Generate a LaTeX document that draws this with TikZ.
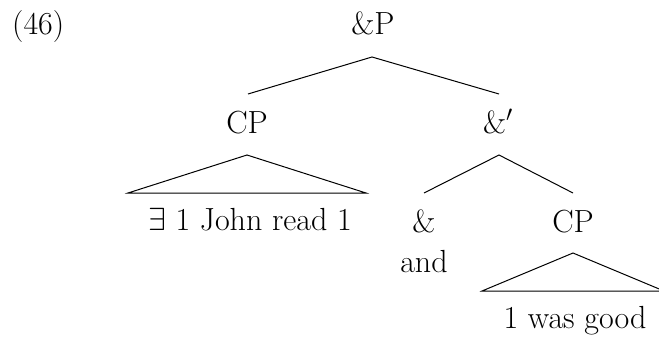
\RequirePackage{fix-cm}
\documentclass[tikz,border=0pt]{standalone}
\usetikzlibrary{calc}
\begin{document}
\begin{tikzpicture}[x=1pt,y=-1pt,
  lbl/.style={inner sep=0pt,anchor=base,font=\fontsize{32}{38}\selectfont},
  branch/.style={line width=1pt,line join=miter}]
\useasboundingbox (0,0) rectangle (659,337);
% example number
\node[lbl,anchor=base west] (num) at (12,35) {(46)};
% tree labels
\node[lbl] (andP) at (373,35) {\&P};
\node[lbl] (cpL) at (247,133) {CP};
\node[lbl] (andbar) at (498,133) {\&$'$};
\node[lbl] (txtL) at (250,230) {$\exists$ 1 John read 1};
\node[lbl] (amp) at (424,232) {\&};
\node[lbl] (andw) at (424,272) {and};
\node[lbl] (cpR) at (573,232) {CP};
\node[lbl] (txtR) at (575,328) {1 was good};
% branch end points
\coordinate (apP) at ($(andP.base)+(-1,22)$);
\coordinate (endL) at ($(cpL.base)+(1,-39)$);
\coordinate (endR) at ($(andbar.base)+(1,-39)$);
\coordinate (apBar) at ($(andbar.base)+(1,22)$);
\coordinate (endAmp) at ($(amp.base)+(0,-39)$);
\coordinate (endCP) at ($(cpR.base)+(0,-39)$);
\coordinate (apL) at ($(cpL.base)+(0,22)$);
\coordinate (apR) at ($(cpR.base)+(0,21)$);
% branches
\draw[branch] (endL) -- (apP) -- (endR);
\draw[branch] (endAmp) -- (apBar) -- (endCP);
% roof triangles
\draw[branch] (apL) -- ++(-119,38) -- ++(238,0) -- cycle;
\draw[branch] (apR) -- ++(-91,38) -- ++(182,0) -- cycle;
\end{tikzpicture}
\end{document}
